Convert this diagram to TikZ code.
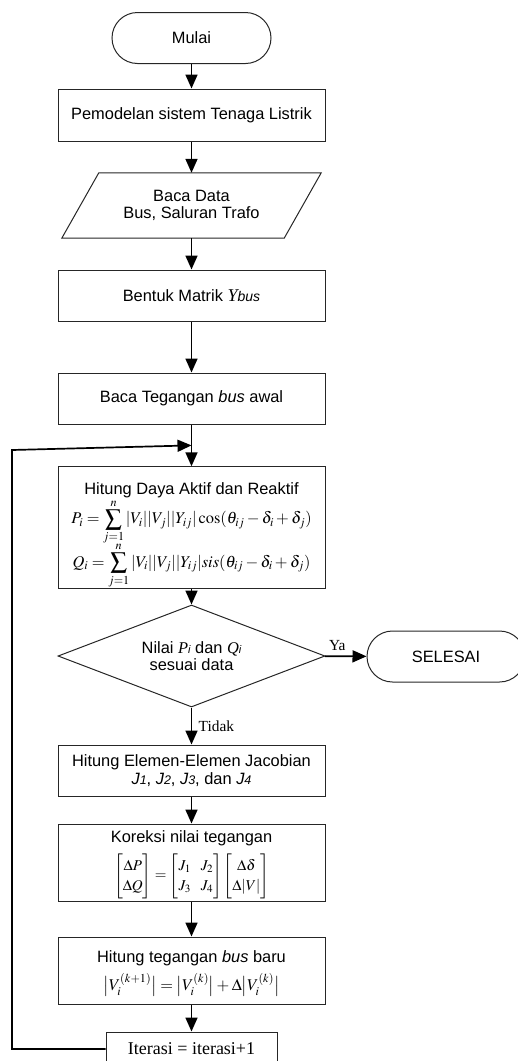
\documentclass[tikz,border=0pt]{standalone}
\usepackage{amsmath}
\usepackage{amssymb}
\usepackage{mathptmx}
\usepackage[no-math]{fontspec}
\setmainfont{Liberation Sans}
\newfontfamily\timesfont{Liberation Serif}
\usetikzlibrary{shapes.geometric,arrows.meta,calc}

\newcommand{\isi}{\fontsize{16.4}{17.5}\selectfont}
\newcommand{\tvar}[2]{{\timesfont\itshape #1}{\fontsize{11}{11}\selectfont\itshape #2}}
\newcommand{\jsub}[1]{{\itshape J{\fontsize{12.5}{12.5}\selectfont #1}}}

\tikzset{
	x=1pt, y=-1pt,
	garis/.style={draw=black!85, line width=1pt},
	proses/.style={garis, rectangle, minimum width=267pt, inner sep=0pt, align=center, font=\isi},
	terminal/.style={garis, rectangle, rounded corners=25.5pt, minimum height=51pt, inner sep=0pt, font=\isi},
	keputusan/.style={garis, diamond, aspect=2.6, minimum width=267pt, minimum height=102pt, inner sep=0pt, align=center, font=\isi},
	panah/.style={-{Triangle[length=14pt,width=12pt]}, line width=1.7pt},
	label teks/.style={font=\fontsize{15.4}{16}\selectfont\timesfont},
}

\begin{document}
\begin{tikzpicture}
	\clip (0,0) rectangle (518,1061);

	\node[terminal, minimum width=159pt] (mulai) at (191.5,38) {Mulai};
	\node[proses, minimum height=52pt] (model) at (191.5,115) {Pemodelan sistem Tenaga Listrik};
	\node[align=center, minimum width=222pt, minimum height=65pt, inner sep=0pt, font=\isi] (data) at (191.5,205.5) {Baca Data\\Bus, Saluran Trafo};
	\draw[garis] ([xshift=18.5pt]data.north west) -- ([xshift=18.5pt]data.north east)
		-- ([xshift=-18.5pt]data.south east) -- ([xshift=-18.5pt]data.south west) -- cycle;
	\node[proses, minimum height=51pt] (ybus) at (191.5,295.5) {Bentuk Matrik {\fontsize{18}{18}\selectfont\timesfont\itshape Y}{\fontsize{14}{14}\selectfont\itshape bus}};
	\node[proses, minimum height=51pt] (awal) at (191.5,398.5) {Baca Tegangan \textit{bus} awal};
	\node[proses, minimum height=103pt] (daya) at (191.5,527.5) {\rule{0pt}{28pt}Hitung Daya Aktif dan Reaktif\\[0pt]
		$\displaystyle P_i=\sum_{j=1}^{n}|V_i||V_j||Y_{ij}|\cos(\theta_{ij}-\delta_i+\delta_j)$\\[-3pt]
		$\displaystyle Q_i=\sum_{j=1}^{n}|V_i||V_j||Y_{ij}|sis(\theta_{ij}-\delta_i+\delta_j)$};
	\node[keputusan] (cek) at (191.5,656) {Nilai \tvar{P}{i} dan \tvar{Q}{i}\\sesuai data};
	\node[terminal, minimum width=158pt] (selesai) at (446,656.5) {SELESAI};
	\node[proses, minimum height=51pt] (jacobi) at (191.5,770.5) {Hitung Elemen-Elemen Jacobian\\\jsub{1}, \jsub{2}, \jsub{3}, dan \jsub{4}};
	\node[proses, minimum height=77pt] (koreksi) at (191.5,862.5) {\rule{0pt}{16pt}Koreksi nilai tegangan\\[7pt]
		{\fontsize{15}{20}\selectfont$\begin{bmatrix}\Delta P\\ \Delta Q\end{bmatrix}=\begin{bmatrix}J_1 & J_2\\ J_3 & J_4\end{bmatrix}\begin{bmatrix}\Delta\delta\\ \Delta|V|\end{bmatrix}$}};
	\node[proses, minimum height=67pt] (baru) at (191.5,970.5) {\rule{0pt}{18pt}Hitung tegangan \textit{bus} baru\\[6pt]
		$\big|V_i^{(k+1)}\big|=\big|V_i^{(k)}\big|+\Delta\big|V_i^{(k)}\big|$};
	\node[proses, minimum width=171pt, minimum height=34pt, font=\fontsize{18}{20}\selectfont\timesfont] (iterasi) at (191.5,1049) {Iterasi = iterasi+1};

	\coordinate (masuk) at ($(awal.south)!0.5!(daya.north)$);
	\coordinate (kiri) at (12,450);

	\foreach \a/\b in {mulai/model, model/data, data/ybus, ybus/awal, awal/daya, daya/cek, jacobi/koreksi, koreksi/baru, baru/iterasi}
		\draw[panah] (\a) -- (\b);
	\draw[panah] (cek) -- node[right, label teks, xshift=3pt] {Tidak} (jacobi);
	\draw[panah] (cek) -- node[above, label teks, pos=0.3, yshift=1pt] {Ya} (selesai);
	\draw[panah] (iterasi.west) -| (kiri) -- (masuk);
\end{tikzpicture}
\end{document}
